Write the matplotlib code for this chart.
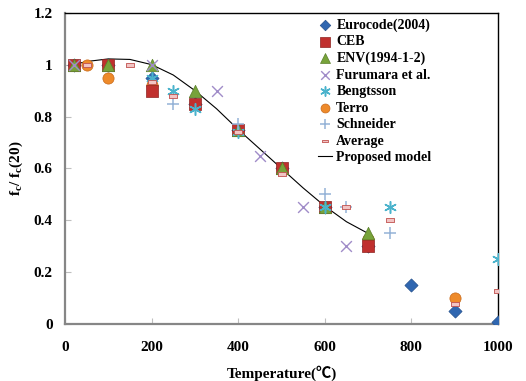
import numpy as np
import matplotlib
matplotlib.use('Agg')
import matplotlib.pyplot as plt

# ── Data ─────────────────────────────────────────────────────────
euro_t = [20, 100, 200, 300, 400, 500, 600, 700, 800, 900, 1000]
euro_v = [1.0, 1.0, 0.95, 0.85, 0.75, 0.60, 0.45, 0.30, 0.15, 0.05, 0.01]

ceb_t = [20, 100, 200, 300, 400, 500, 600, 700]
ceb_v = [1.0, 1.0, 0.90, 0.85, 0.75, 0.60, 0.45, 0.30]

env_t = [20, 100, 200, 300, 400, 500, 600, 700]
env_v = [1.0, 1.0, 1.0, 0.90, 0.75, 0.60, 0.45, 0.35]

furu_t = [20, 200, 350, 450, 550, 650]
furu_v = [1.0, 1.0, 0.90, 0.65, 0.45, 0.30]

beng_t = [200, 250, 300, 400, 600, 750, 1000]
beng_v = [0.95, 0.90, 0.83, 0.74, 0.45, 0.45, 0.25]

terro_t = [50, 100, 200, 700, 900]
terro_v = [1.0, 0.95, 0.92, 0.33, 0.10]

schn_t = [250, 400, 600, 650, 750]
schn_v = [0.85, 0.77, 0.50, 0.45, 0.35]

avg_t = [50, 150, 200, 250, 400, 500, 650, 750, 900, 1000]
avg_v = [1.0, 1.0, 0.935, 0.88, 0.74, 0.58, 0.45, 0.40, 0.08, 0.13]

model_t = [20, 50, 100, 150, 200, 250, 300, 350, 400, 450, 500, 550, 600, 650, 700]
model_v = [1.0, 1.012, 1.022, 1.02, 1.0, 0.96, 0.90, 0.83, 0.75, 0.675,
           0.60, 0.525, 0.455, 0.395, 0.35]

# ── Style ─────────────────────────────────────────────────────────
plt.rcParams.update({
    "font.family":      "Liberation Serif",
    "font.weight":      "bold",
    "font.size":        11,
    "mathtext.fontset": "custom",
    "mathtext.rm":      "Liberation Serif:bold",
})

dash = [(-1, -0.45), (1, -0.45), (1, 0.45), (-1, 0.45), (-1, -0.45)]

fig = plt.figure(figsize=(5.26, 3.81), dpi=100)
ax = fig.add_axes([0.1236, 0.1488, 0.8232, 0.8179])

ax.plot(model_t, model_v, color="black", lw=0.8, zorder=2,
        label="Proposed model")
ax.scatter(euro_t, euro_v, marker="D", s=45, color="#2F66B0",
           edgecolors="#24508C", linewidths=0.5, zorder=3, label="Eurocode(2004)")
ax.scatter(terro_t, terro_v, marker="o", s=65, color="#EE8A2A",
           edgecolors="#C8691A", linewidths=0.5, zorder=3.5, label="Terro")
ax.scatter(ceb_t, ceb_v, marker="s", s=85, color="#C0302E",
           edgecolors="#8E2220", linewidths=0.5, zorder=4, label="CEB")
ax.scatter(env_t, env_v, marker="^", s=80, color="#77A33A",
           edgecolors="#5A7F2A", linewidths=0.5, zorder=5, label="ENV(1994-1-2)")
ax.scatter(furu_t, furu_v, marker="x", s=60, color="#A08CC8",
           linewidths=1.0, zorder=6, label="Furumara et al.")
ax.scatter(beng_t, beng_v, marker=(6, 2, 0), s=70, color="#4BB3CC",
           linewidths=1.1, zorder=6, label="Bengtsson")
ax.scatter(schn_t, schn_v, marker="+", s=70, color="#95B3D7",
           linewidths=1.1, zorder=6, label="Schneider")
ax.scatter(avg_t, avg_v, marker=dash, s=30, color="#F2C4C4",
           edgecolors="#C0504D", linewidths=0.6, zorder=7, label="Average")

ax.set_xlim(0, 1000)
ax.set_ylim(0, 1.2)
ax.set_xticks([0, 200, 400, 600, 800, 1000])
ax.set_yticks([0, 0.2, 0.4, 0.6, 0.8, 1.0, 1.2])
ax.set_yticklabels(["0", "0.2", "0.4", "0.6", "0.8", "1", "1.2"])

for s in ["left", "bottom"]:
    ax.spines[s].set_color("#868686")
    ax.spines[s].set_linewidth(1.6)
for s in ["top", "right"]:
    ax.spines[s].set_color("black")
    ax.spines[s].set_linewidth(1.0)
ax.tick_params(axis="both", direction="in", length=4, color="#BFBFBF",
               labelsize=11)
ax.tick_params(axis="x", pad=12)
ax.tick_params(axis="y", pad=9)

ax.set_xlabel("Temperature(\u2103)", fontweight="bold",
              family=["Liberation Serif", "Noto Sans CJK SC"], labelpad=8)
ax.set_ylabel(r"f$_{\mathregular{c}}$/ f$_{\mathregular{c}}$(20)",
              fontweight="bold", labelpad=6)

# legend in the reference order
order = ["Eurocode(2004)", "CEB", "ENV(1994-1-2)", "Furumara et al.",
         "Bengtsson", "Terro", "Schneider", "Average", "Proposed model"]
h, l = ax.get_legend_handles_labels()
hl = dict(zip(l, h))
ax.legend([hl[k] for k in order], order, loc="upper left",
          bbox_to_anchor=(0.572, 1.0), frameon=False, fontsize=10,
          handlelength=1.0, handletextpad=0.3, labelspacing=0.25,
          borderaxespad=0.0, scatterpoints=1, markerscale=0.8)

plt.savefig("out.png", dpi=100)
